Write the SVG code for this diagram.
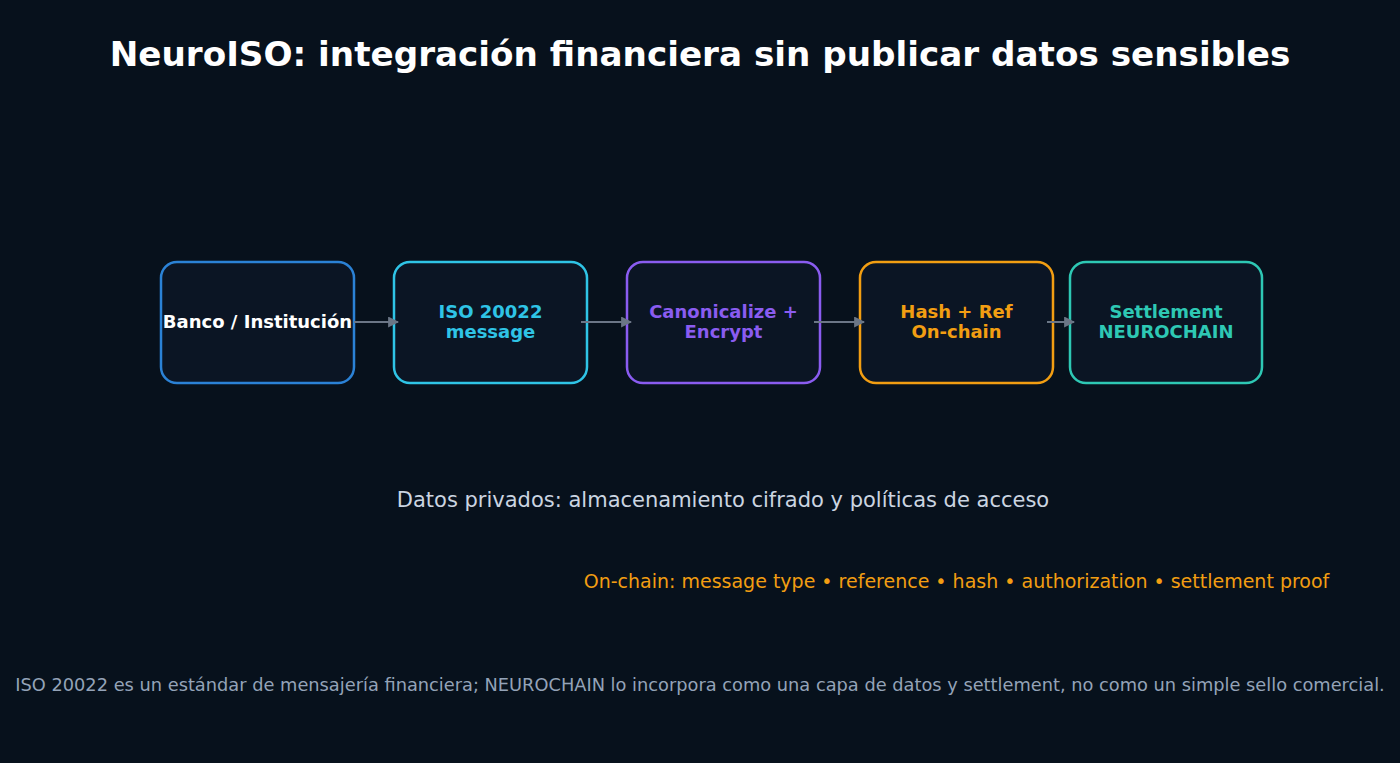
<svg xmlns="http://www.w3.org/2000/svg" width="1400" height="763" viewBox="0 0 1400 763">
<defs>
<style>
.box{fill:#0b1524;stroke-width:2.5}
.lbl{font-family:"DejaVu Sans",sans-serif;font-weight:bold;font-size:18px;text-anchor:middle}
.conn{stroke:#6b7686;stroke-width:2;fill:none;marker-end:url(#ah)}
</style>
<marker id="ah" viewBox="0 0 10 10" refX="9" refY="5" markerWidth="5.5" markerHeight="5.5" orient="auto" markerUnits="strokeWidth">
<path d="M0,0 L10,5 L0,10 z" fill="#6b7686"/>
</marker>
</defs>
<rect width="1400" height="763" fill="#07111c"/>
<text x="700" y="66" font-family="DejaVu Sans, sans-serif" font-weight="bold" font-size="34.2" fill="#ffffff" text-anchor="middle">NeuroISO: integración financiera sin publicar datos sensibles</text>
<g id="n1"><rect class="box" x="161" y="262" width="193" height="121" rx="16" stroke="#2b82d6"/><text class="lbl" x="257.5" y="328" fill="#ffffff">Banco / Institución</text></g>
<g id="n2"><rect class="box" x="394" y="262" width="193" height="121" rx="16" stroke="#2fc4e6"/><text class="lbl" x="490.5" y="318" fill="#2fc4e6">ISO 20022<tspan x="490.5" dy="20">message</tspan></text></g>
<g id="n3"><rect class="box" x="627" y="262" width="193" height="121" rx="16" stroke="#8a5cf0"/><text class="lbl" x="723.5" y="318" fill="#8a5cf0">Canonicalize +<tspan x="723.5" dy="20">Encrypt</tspan></text></g>
<g id="n4"><rect class="box" x="860" y="262" width="193" height="121" rx="16" stroke="#f29e12"/><text class="lbl" x="956.5" y="318" fill="#f29e12">Hash + Ref<tspan x="956.5" dy="20">On-chain</tspan></text></g>
<g id="n5"><rect class="box" x="1070" y="262" width="192" height="121" rx="16" stroke="#2ec8b4"/><text class="lbl" x="1166" y="318" fill="#2ec8b4">Settlement<tspan x="1166" dy="20">NEUROCHAIN</tspan></text></g>
<g id="connectors">
<line class="conn" x1="354" y1="322" x2="398" y2="322"/>
<line class="conn" x1="581" y1="322" x2="631" y2="322"/>
<line class="conn" x1="814" y1="322" x2="864" y2="322"/>
<line class="conn" x1="1047" y1="322" x2="1074" y2="322"/>
</g>
<text x="723" y="507" font-family="DejaVu Sans, sans-serif" font-size="21" fill="#cbd5e1" text-anchor="middle">Datos privados: almacenamiento cifrado y políticas de acceso</text>
<text x="956.5" y="588" font-family="DejaVu Sans, sans-serif" font-size="19" fill="#f29e12" text-anchor="middle">On-chain: message type • reference • hash • authorization • settlement proof</text>
<text x="700" y="691" font-family="DejaVu Sans, sans-serif" font-size="17.8" fill="#94a3b8" text-anchor="middle">ISO 20022 es un estándar de mensajería financiera; NEUROCHAIN lo incorpora como una capa de datos y settlement, no como un simple sello comercial.</text>
</svg>
